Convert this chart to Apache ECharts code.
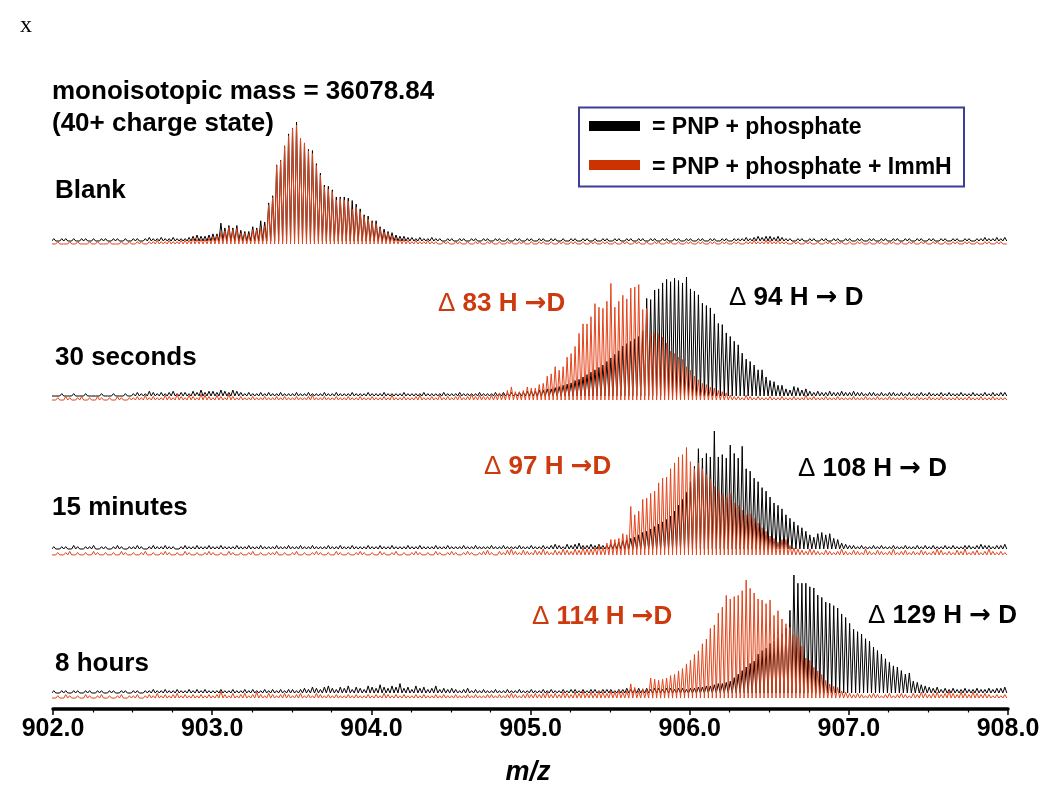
<!DOCTYPE html>
<html><head><meta charset="utf-8">
<script src="https://cdn.jsdelivr.net/npm/echarts@6/dist/echarts.min.js"></script>
<style>html,body{margin:0;padding:0;background:#fff}#c{width:1050px;height:801px}</style>
</head><body><div id="c"></div>
<script>
// isotopic peak grid (40+ charge state -> 0.025 m/z spacing)
const MZ_START = 902.005;
const MZ_STEP = 0.025;
const xTickValues = [902, 903, 904, 905, 906, 907, 908];
const panelLabels = ['Blank', '30 seconds', '15 minutes', '8 hours'];
const blackDeltaLabels = [null, '94', '108', '129'];
const redDeltaLabels = [null, '83', '97', '114'];
const legendLabels = ['= PNP + phosphate', '= PNP + phosphate + ImmH'];

// relative peak heights (0-100), one value per isotopic peak
const blankBlack = [
2,1,2,2,1,2,1,2,2,1,2,1,2,2,1,2,2,1,2,1,
2,2,1,2,3,2,2,3,2,2,3,2,2,2,3,4,5,4,4,5,
6,6,15,11,13,11,13,9,8,8,12,11,17,16,32,38,64,68,80,90,
95,100,86,82,77,76,65,57,47,46,43,37,37,37,36,34,31,27,22,21,
17,17,12,10,8,7,5,4,4,3,3,2,3,2,2,3,2,2,1,2,
2,1,2,2,1,2,2,1,2,2,1,2,2,1,2,1,2,2,1,2,
2,1,2,2,1,2,2,1,2,1,2,2,1,2,2,1,2,1,2,2,
1,2,2,1,2,2,1,2,2,1,2,2,1,2,2,1,2,2,1,2,
2,1,2,2,1,2,2,1,2,2,1,2,2,2,3,2,3,4,3,4,
4,3,4,3,2,2,1,2,2,1,2,2,1,2,2,1,2,2,1,2,
2,1,2,2,1,2,2,1,2,2,1,2,2,1,2,2,1,2,2,1,
2,2,1,2,2,1,2,2,1,2,2,1,2,2,3,2,2,3,2,3];
const blankRed = [
1,2,1,1,2,1,2,1,1,2,1,2,1,1,2,1,1,2,1,2,
1,2,2,1,2,2,3,2,2,3,2,2,3,3,3,5,4,4,4,5,
6,7,10,11,14,12,13,9,9,8,12,12,14,15,33,39,66,70,82,91,
97,100,89,85,78,76,66,58,48,46,44,37,38,37,36,29,31,27,23,21,
18,17,13,10,9,7,5,4,4,3,2,3,2,2,3,2,2,1,2,2,
1,2,2,1,2,1,2,2,1,2,2,1,2,1,2,2,1,2,2,1,
2,1,2,2,1,2,1,2,2,1,2,2,1,2,1,2,2,1,2,2,
1,2,1,2,2,1,2,2,1,2,1,2,2,1,2,2,1,2,1,2,
2,1,2,2,1,2,2,1,2,2,1,2,2,1,2,2,3,2,2,3,
3,2,3,2,2,1,2,2,1,2,2,1,2,1,2,2,1,2,2,1,
2,1,2,2,1,2,1,2,2,1,2,2,1,2,1,2,2,1,2,2,
1,2,2,1,2,1,2,2,1,2,2,1,2,1,2,2,1,2,2,1];
const sec30Black = [
1,1,2,1,1,2,1,1,2,1,1,1,2,1,1,2,1,1,2,1,
2,3,2,2,4,3,2,3,2,3,4,2,3,3,2,4,3,5,3,4,
4,3,5,4,3,5,4,3,2,3,2,2,3,2,3,2,2,3,2,2,
2,3,2,2,3,2,2,2,3,2,2,3,2,2,2,3,2,2,2,3,
2,2,2,3,2,2,2,2,3,2,2,2,2,3,2,2,2,2,3,2,
2,2,3,2,2,2,2,3,2,2,2,3,2,3,2,3,2,3,3,4,
4,4,5,5,6,6,7,8,9,10,11,13,14,16,18,20,22,24,26,29,
32,35,38,42,44,46,48,50,55,82,81,89,90,95,98,96,99,97,95,100,
90,88,85,78,76,74,69,61,60,53,50,46,43,36,31,29,26,22,22,16,
13,12,9,9,6,5,8,7,5,6,4,3,4,3,3,4,3,3,4,3,
3,4,3,3,2,3,3,2,3,2,3,3,2,3,2,3,2,2,3,2,
3,2,2,3,2,3,2,2,3,2,2,3,2,2,3,2,3,2,3,3];
const sec30Red = [
1,2,1,3,2,1,2,3,1,2,1,3,2,1,2,1,3,2,1,2,
2,3,2,4,2,3,2,2,4,3,2,5,3,2,4,3,2,5,4,3,
2,4,3,2,5,3,2,3,2,2,3,2,2,3,2,2,3,2,3,2,
2,3,2,2,3,4,2,2,3,2,2,3,2,2,3,2,2,3,2,2,
3,2,2,3,2,4,2,2,3,2,2,3,4,2,2,3,2,4,2,3,
2,3,4,2,3,5,3,4,3,3,4,4,6,5,8,11,7,7,8,11,
10,10,13,14,20,22,28,25,28,36,39,45,56,64,64,70,81,78,77,83,
98,78,83,88,85,94,95,97,76,77,56,57,56,53,48,41,39,36,34,28,
25,20,17,14,13,11,10,8,7,6,4,3,3,2,4,3,2,3,2,2,
3,2,2,3,2,2,3,2,2,4,2,3,2,2,3,2,2,3,2,2,
2,3,2,2,3,2,2,3,2,2,3,2,2,2,3,2,2,3,2,2,
3,2,2,3,2,2,2,3,2,2,3,2,2,3,2,2,3,2,2,2];
const min15Black = [
2,1,2,2,1,3,2,1,2,2,3,1,2,2,1,2,3,2,1,2,
2,3,2,1,2,3,2,2,3,2,2,1,2,3,2,2,3,2,2,3,
2,2,3,2,2,2,3,2,2,3,2,2,3,2,2,2,3,2,2,3,
2,2,3,2,2,3,2,2,2,3,2,2,3,2,2,3,2,2,2,3,
2,2,3,2,2,3,2,2,2,3,2,2,3,2,2,2,3,2,2,3,
2,2,2,3,2,2,3,2,2,2,3,2,2,3,2,2,2,3,2,2,
3,2,2,3,2,3,4,3,2,4,3,4,5,3,3,4,3,4,3,3,
4,5,6,7,8,9,10,12,14,15,17,19,21,23,25,28,32,37,42,48,
57,70,85,77,81,78,100,78,80,77,88,81,77,87,68,66,60,57,52,49,
44,39,37,34,29,26,23,20,18,15,12,10,13,14,12,13,9,8,5,4,
3,3,2,3,2,2,3,2,3,2,2,3,2,2,3,2,2,3,2,3,
2,3,2,2,3,2,3,2,2,3,3,2,3,4,3,3,2,3,3,4];
const min15Red = [
1,2,1,2,3,1,2,1,2,1,3,2,1,2,1,2,1,3,2,1,
2,1,2,3,1,2,1,2,3,2,1,2,1,3,2,1,2,1,2,3,
2,1,2,1,3,2,1,2,1,2,3,1,2,1,2,2,3,1,2,1,
2,3,1,2,1,2,3,2,1,2,1,3,2,1,2,1,2,3,2,1,
2,1,3,2,1,2,3,1,2,1,2,3,2,1,2,1,3,2,1,2,
3,2,1,2,3,2,1,2,3,4,2,1,3,2,4,5,3,2,4,3,
2,4,3,5,3,2,4,3,5,4,3,5,4,6,5,5,6,8,6,10,
13,13,14,18,17,41,34,37,47,48,52,54,61,65,66,73,78,83,85,91,
79,73,78,73,68,64,58,55,52,49,52,44,42,38,34,35,31,27,23,20,
16,14,11,13,13,8,6,5,4,3,5,4,3,2,4,3,2,3,5,3,
2,4,3,2,5,3,2,4,3,2,3,5,2,3,4,2,3,2,4,3,
2,3,5,4,2,3,2,4,3,5,2,3,4,2,3,5,3,2,3,2];
const hr8Black = [
2,1,2,2,1,2,2,1,2,2,1,2,2,1,2,2,1,2,2,1,
2,2,1,2,2,3,2,2,3,2,2,3,2,2,3,2,3,2,3,2,
2,2,3,2,2,3,2,2,3,2,3,2,2,3,2,3,2,3,2,3,
3,2,3,4,3,5,4,3,5,6,4,3,5,4,6,3,5,4,3,6,
5,4,7,5,4,6,5,8,4,5,3,6,4,5,3,4,6,3,4,3,
4,3,2,3,4,2,3,2,3,2,2,3,2,2,3,2,2,3,2,2,
3,2,2,3,2,3,2,2,3,2,3,3,2,3,2,3,3,2,3,3,
3,2,3,3,4,3,3,4,3,4,3,4,4,3,4,4,3,4,4,3,
4,4,5,5,6,6,7,8,8,9,10,13,16,19,22,25,27,33,36,38,
42,44,47,50,55,70,100,93,93,93,90,89,83,81,77,76,74,72,67,64,
59,54,52,50,46,44,39,36,33,29,26,23,22,19,16,17,10,9,7,6,
5,4,5,3,4,3,4,3,3,4,3,3,4,3,3,4,3,4,4,5];
const hr8Red = [
1,2,1,3,2,1,2,1,3,2,1,2,3,1,2,1,2,3,1,2,
2,3,1,2,3,2,4,2,3,2,3,4,2,3,2,3,2,3,2,3,
2,3,6,3,2,4,2,3,4,2,3,5,3,2,4,3,2,3,4,3,
2,3,4,2,3,2,4,3,2,3,2,3,2,2,3,2,3,2,2,3,
2,3,2,4,3,2,3,2,3,2,2,3,2,3,2,2,3,2,3,2,
2,3,2,2,3,2,3,2,2,3,3,2,3,2,3,4,3,2,3,4,
3,4,3,4,5,3,4,3,5,4,3,5,4,6,4,5,4,6,5,4,
6,5,7,5,6,12,9,6,8,7,17,16,15,16,17,19,20,23,25,29,
32,37,40,46,50,59,62,72,77,87,84,86,87,91,100,93,89,84,83,80,
83,70,74,67,63,60,54,52,44,34,32,26,23,20,15,12,10,9,6,5,
4,3,4,3,2,3,4,3,2,3,4,2,3,4,3,2,4,3,5,4,
3,4,5,3,4,6,4,3,5,4,3,5,4,3,4,3,2,3,2,3];

const blackTraces = [blankBlack, sec30Black, min15Black, hr8Black];
const redTraces = [blankRed, sec30Red, min15Red, hr8Red];

// layout (pixels) – not data
const BLACK = '#000000', RED_LINE = '#e2441b', RED_TEXT = '#cc3a0e', RED_BAR = '#cc3300';
const panelTop = [122, 277, 431, 575];
const panelBase = [241, 396, 549, 693];
const redOffset = [2.5, 3.4, 5.0, 4.3]; // red trace drawn slightly below black (intensity units)
const Y_MIN = -8, Y_MAX = 100;
const PLOT_LEFT = 53, PLOT_RIGHT = 1008;
const FONT = '"Liberation Sans", Arial, Helvetica, sans-serif';
const ARROW_FONT = '"DejaVu Sans", "Liberation Sans", sans-serif';

function peakLine(vals, off) {
  const d = [];
  for (let k = 0; k < vals.length; k++) {
    const mz = MZ_START + k * MZ_STEP;
    d.push([mz - MZ_STEP / 2, -off]);
    d.push([mz, vals[k] - off]);
  }
  d.push([MZ_START + vals.length * MZ_STEP - MZ_STEP / 2, -off]);
  return d;
}

const grids = [], xAxes = [], yAxes = [], series = [];
for (let i = 0; i < 4; i++) {
  const h = (panelBase[i] - panelTop[i]) * (Y_MAX - Y_MIN) / Y_MAX;
  grids.push({ left: PLOT_LEFT, width: PLOT_RIGHT - PLOT_LEFT, top: panelTop[i], height: h, containLabel: false });
  const last = i === 3;
  xAxes.push({
    type: 'value', gridIndex: i, min: 902, max: 908, interval: 1,
    show: last,
    offset: last ? 709 - (panelTop[i] + h) : 0,
    axisLine: { show: true, onZero: false, lineStyle: { color: '#000', width: 3.5 } },
    axisTick: { show: true, inside: false, length: 6, lineStyle: { color: '#000', width: 1.5 } },
    minorTick: { show: true, splitNumber: 4, length: 3.5, lineStyle: { color: '#000', width: 1.2 } },
    splitLine: { show: false }, minorSplitLine: { show: false },
    axisLabel: {
      show: true, margin: 8, color: '#000', fontFamily: FONT, fontWeight: 'bold', fontSize: 25,
      formatter: v => xTickValues.indexOf(v) >= 0 ? v.toFixed(1) : ''
    }
  });
  yAxes.push({ type: 'value', gridIndex: i, min: Y_MIN, max: Y_MAX, show: false, splitLine: { show: false } });
  series.push({
    type: 'line', xAxisIndex: i, yAxisIndex: i, data: peakLine(blackTraces[i], 0),
    showSymbol: false, symbol: 'none', lineStyle: { color: BLACK, width: 1 }, silent: true, z: 2
  });
  series.push({
    type: 'line', xAxisIndex: i, yAxisIndex: i, data: peakLine(redTraces[i], redOffset[i]),
    showSymbol: false, symbol: 'none', lineStyle: { color: RED_LINE, width: 1 }, silent: true, z: 3
  });
}

function txt(x, y, text, o) {
  o = o || {};
  return {
    type: 'text', x: x, y: y, z: 20,
    style: Object.assign({
      text: text, fill: o.color || '#000', fontFamily: o.family || FONT,
      fontWeight: o.weight || 'bold', fontSize: o.size || 26, fontStyle: o.style || 'normal',
      align: o.align || 'left', verticalAlign: 'middle', textAlign: o.align || 'left', textVerticalAlign: 'middle'
    }, o.rich ? { rich: o.rich } : {})
  };
}
function delta(x, y, num, color, spacedArrow) {
  const rich = {
    d: { fontFamily: FONT, fontWeight: 'normal', fontSize: 26, fill: color },
    t: { fontFamily: FONT, fontWeight: 'bold', fontSize: 26, fill: color },
    a: { fontFamily: ARROW_FONT, fontWeight: 'bold', fontSize: 26, fill: color }
  };
  const s = '{d|Δ}{t| ' + num + ' H }{a|→}{t|' + (spacedArrow ? ' D' : 'D') + '}';
  return txt(x, y, s, { color: color, rich: rich });
}

const graphic = [
  txt(20, 26, 'x', { family: '"Liberation Serif", "Times New Roman", serif', weight: 'normal', size: 24 }),
  txt(52, 92, 'monoisotopic mass = 36078.84'),
  txt(52, 124, '(40+ charge state)'),
  txt(55, 191, panelLabels[0]),
  txt(55, 358, panelLabels[1]),
  txt(52, 508, panelLabels[2]),
  txt(55, 664, panelLabels[3]),
  delta(438, 304, redDeltaLabels[1], RED_TEXT, false),
  delta(729, 298, blackDeltaLabels[1], '#000', true),
  delta(484, 467, redDeltaLabels[2], RED_TEXT, false),
  delta(798, 469, blackDeltaLabels[2], '#000', true),
  delta(532, 617, redDeltaLabels[3], RED_TEXT, false),
  delta(868, 616, blackDeltaLabels[3], '#000', true),
  { type: 'rect', z: 15, shape: { x: 579, y: 107.5, width: 385, height: 79 },
    style: { fill: '#fff', stroke: '#3d3d98', lineWidth: 2 } },
  { type: 'rect', z: 16, shape: { x: 589, y: 121, width: 51, height: 10 }, style: { fill: '#000' } },
  { type: 'rect', z: 16, shape: { x: 589, y: 160, width: 51, height: 10 }, style: { fill: RED_BAR } },
  txt(652, 127.5, legendLabels[0], { size: 23 }),
  txt(652, 167.5, legendLabels[1], { size: 23 }),
  txt(528, 773, 'm/z', { style: 'italic', size: 27, align: 'center' })
];

const chart = echarts.init(document.getElementById('c'), null, { renderer: 'canvas' });
chart.setOption({
  animation: false,
  backgroundColor: '#fff',
  grid: grids, xAxis: xAxes, yAxis: yAxes, series: series, graphic: graphic
});
</script></body></html>
